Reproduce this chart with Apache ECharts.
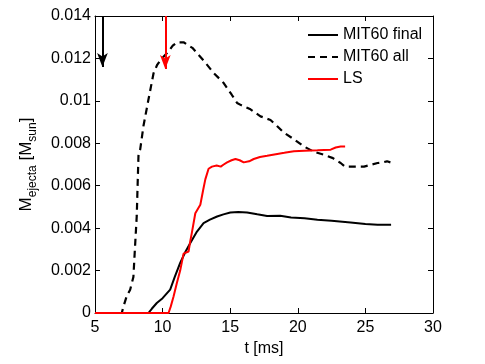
<!DOCTYPE html>
<html><head><meta charset="utf-8">
<script src="https://cdn.jsdelivr.net/npm/echarts@6/dist/echarts.min.js"></script>
<style>html,body{margin:0;padding:0;background:#fff}#c{width:485px;height:364px}</style>
</head><body><div id="c"></div>
<script>
const seriesNames = ['MIT60 final', 'MIT60 all', 'LS'];
const mitFinal = [[5,0],[8.95,0],[9.2,0.0002],[9.57,0.00047],[10.0,0.0007],[10.56,0.0011],[10.9,0.0017],[11.3,0.00236],[11.7,0.0029],[12.05,0.0033],[12.5,0.0038],[13.03,0.00424],[13.5,0.0044],[14.03,0.00455],[14.5,0.00465],[15.01,0.00474],[15.6,0.00476],[16.25,0.00474],[17.0,0.00465],[17.73,0.00457],[18.7,0.00458],[19.5,0.0045],[20.5,0.00447],[21.45,0.0044],[22.5,0.00435],[23.9,0.00427],[25.0,0.0042],[25.9,0.00416],[26.9,0.00416]];
const mitAll = [[5,0],[6.98,0],[7.1,0.0003],[7.35,0.0008],[7.6,0.0011],[7.84,0.0017],[7.95,0.003],[8.09,0.0046],[8.15,0.006],[8.22,0.0075],[8.34,0.0077],[8.45,0.0082],[8.58,0.0088],[8.95,0.01005],[9.33,0.0113],[9.6,0.0117],[9.82,0.0119],[10.1,0.0121],[10.44,0.01233],[10.75,0.0126],[11.06,0.01276],[11.55,0.01276],[12.2,0.0125],[13.03,0.0119],[13.8,0.0113],[14.52,0.01084],[15.1,0.0103],[15.51,0.0099],[15.8,0.0098],[16.5,0.0096],[17.24,0.00927],[17.98,0.0091],[18.48,0.0088],[18.97,0.0085],[19.7,0.0082],[20.45,0.00785],[21.2,0.0076],[21.94,0.00746],[22.6,0.0073],[23.17,0.00707],[23.5,0.0069],[24.9,0.0069],[25.9,0.00707],[26.3,0.0071],[26.6,0.00715],[26.85,0.0071]];
const ls = [[5,0],[10.44,0],[10.6,0.0003],[10.81,0.00078],[11.05,0.0014],[11.3,0.002],[11.55,0.0028],[11.92,0.0029],[12.05,0.0034],[12.17,0.0038],[12.42,0.0047],[12.79,0.0051],[13.0,0.0058],[13.16,0.0063],[13.4,0.0068],[13.65,0.0069],[14.0,0.00695],[14.3,0.0069],[14.52,0.007],[14.77,0.0071],[15.1,0.0072],[15.39,0.00726],[15.7,0.0072],[16.0,0.0071],[16.4,0.00715],[16.74,0.00726],[17.2,0.00735],[17.73,0.00741],[18.48,0.0075],[19.0,0.00755],[19.71,0.00762],[20.5,0.00765],[21.45,0.00767],[22.43,0.0077],[22.8,0.0078],[23.17,0.00785],[23.5,0.00785]];
const arrowX = [5.55, 10.2];
const arrowTop = 0.014;
const arrowTip = [0.0116, 0.0115];
const xTicks = [5, 10, 15, 20, 25, 30];
const yTicks = [0, 0.002, 0.004, 0.006, 0.008, 0.01, 0.012, 0.014];

const FONT = '"Liberation Sans", Arial, sans-serif';
const chart = echarts.init(document.getElementById('c'), null, {renderer: 'canvas'});
const axisCommon = {
  axisLine: {show: true, onZero: false, lineStyle: {color: '#000', width: 1}},
  axisTick: {show: true, inside: true, length: 5, lineStyle: {color: '#000'}},
  splitLine: {show: false}
};
function arrowLine(x, tip, color) {
  return {
    silent: true, animation: false, symbol: ['none', 'arrow'], symbolSize: [8, 14],
    label: {show: false},
    lineStyle: {color: color, width: 2, type: 'solid'},
    data: [[{coord: [x, arrowTop]}, {coord: [x, tip]}]]
  };
}
chart.setOption({
  animation: false,
  grid: {left: 95, right: 52, top: 16, bottom: 51},
  legend: {
    orient: 'vertical', left: 302, top: 22, itemWidth: 30, itemHeight: 14, itemGap: 6,
    data: seriesNames,
    itemStyle: {opacity: 0},
    textStyle: {fontFamily: FONT, fontSize: 16, color: '#000'}
  },
  xAxis: [
    Object.assign({type: 'value', min: xTicks[0], max: xTicks[xTicks.length-1], interval: 5,
      name: 't [ms]', nameLocation: 'middle', nameGap: 25,
      nameTextStyle: {fontFamily: FONT, fontSize: 16, color: '#000'},
      axisLabel: {fontFamily: FONT, fontSize: 16, color: '#000', margin: 7}}, axisCommon),
    Object.assign({type: 'value', position: 'top', min: xTicks[0], max: xTicks[xTicks.length-1], interval: 5,
      axisLabel: {show: false}}, axisCommon)
  ],
  yAxis: [
    Object.assign({type: 'value', min: yTicks[0], max: yTicks[yTicks.length-1], interval: 0.002,
      name: 'M{sub|ejecta} [M{sub|sun}]', nameLocation: 'middle', nameGap: 56, nameRotate: 90,
      nameTextStyle: {fontFamily: FONT, fontSize: 17, color: '#000', lineHeight: 26,
        rich: {sub: {fontFamily: FONT, fontSize: 12, color: '#000', lineHeight: 8, verticalAlign: 'bottom'}}},
      axisLabel: {fontFamily: FONT, fontSize: 16, color: '#000', margin: 4,
        formatter: v => String(+v.toFixed(3))}}, axisCommon),
    Object.assign({type: 'value', position: 'right', min: yTicks[0], max: yTicks[yTicks.length-1], interval: 0.002,
      axisLabel: {show: false}}, axisCommon)
  ],
  series: [
    {name: seriesNames[0], type: 'line', data: mitFinal, symbol: 'none', showSymbol: false,
      lineStyle: {color: '#000', width: 2}, itemStyle: {color: '#000'},
      markLine: arrowLine(arrowX[0], arrowTip[0], '#000')},
    {name: seriesNames[1], type: 'line', data: mitAll, symbol: 'none', showSymbol: false,
      lineStyle: {color: '#000', width: 2.2, type: [7, 5]}, itemStyle: {color: '#000'}},
    {name: seriesNames[2], type: 'line', data: ls, symbol: 'none', showSymbol: false,
      lineStyle: {color: '#ff0000', width: 2}, itemStyle: {color: '#ff0000'},
      markLine: arrowLine(arrowX[1], arrowTip[1], '#ff0000')}
  ]
});
</script></body></html>
